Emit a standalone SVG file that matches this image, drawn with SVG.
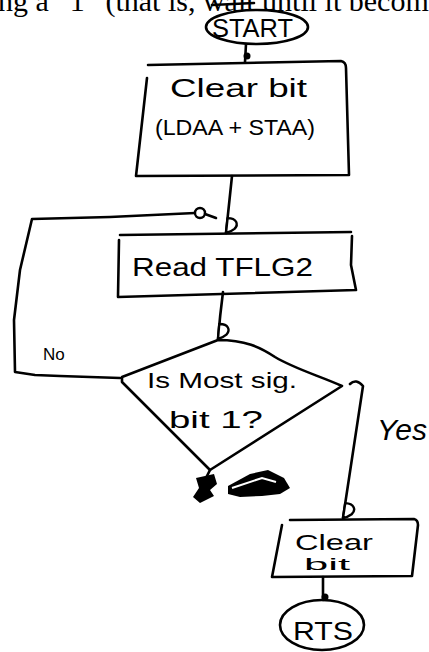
<svg xmlns="http://www.w3.org/2000/svg" width="429" height="652" viewBox="0 0 429 652">
<style>
  .ln{fill:none;stroke:#000;stroke-width:2.6;stroke-linecap:round;stroke-linejoin:round}
  .hw{font-family:"Liberation Sans","DejaVu Sans",sans-serif;fill:#000}
  .pg{font-family:"Liberation Serif","DejaVu Serif",serif;fill:#000;font-size:30px}
</style>
<defs>
  <marker id="arr" viewBox="-17 -13 20 17" refX="0" refY="0" markerWidth="20" markerHeight="17" markerUnits="userSpaceOnUse" orient="auto">
    <path d="M0,0 L-15,0 C-16,-9 -10,-12 -5,-8 C-2,-5 -1,-3 0,0 Z" fill="#fff" stroke="#000" stroke-width="2.4" stroke-linejoin="round"/>
  </marker>
</defs>
<rect width="429" height="652" fill="#fff"/>

<g id="page-text">
  <text class="pg" x="-2" y="11">ng a “1” (that is, wait until it becom</text>
  <path class="ln" d="M212,5 L254,3" stroke-width="2"/>
</g>

<g id="connectors">
  <path class="ln" d="M246,44 L245,62"/>
  <circle cx="247" cy="56" r="3.5" fill="#000"/>
  <path class="ln" d="M232,176 L226,233" marker-end="url(#arr)"/>
  <path class="ln" d="M120,378 L60,376 L35,375 L15,372 L14,320 L20,270 L32,219 L110,217 L195,213"/>
  <circle cx="200" cy="213" r="5" fill="#fff" stroke="#000" stroke-width="2.4"/>
  <path class="ln" d="M205,214 L216,218"/>
  <path class="ln" d="M223,292 Q220,315 218,339" marker-end="url(#arr)"/>
  <path class="ln" d="M350,384 Q356,378 363,386 L343,518" marker-end="url(#arr)"/>
  <path class="ln" d="M210,470 L205,480"/>
  <path class="ln" d="M323,577 L323,600"/>
  <circle cx="325" cy="597" r="3.5" fill="#000"/>
</g>

<g id="start">
  <ellipse class="ln" cx="257" cy="27" rx="51" ry="17"/>
  <text class="hw" x="212" y="37" font-size="26" textLength="81" lengthAdjust="spacingAndGlyphs">START</text>
</g>

<g id="clear-bit-1">
  <path class="ln" d="M148,65 L341,61 Q346,62 346,68 L349,175 L136,176 L147,78"/>
  <text class="hw" x="170" y="97" font-size="25" textLength="137" lengthAdjust="spacingAndGlyphs">Clear bit</text>
  <text class="hw" x="155" y="135" font-size="22" textLength="160" lengthAdjust="spacingAndGlyphs">(LDAA + STAA)</text>
</g>

<g id="read-tflg2">
  <path class="ln" d="M120,235 L351,232"/>
  <path class="ln" d="M352,236 L351,265 L356,290 L118,297 L119,240"/>
  <text class="hw" x="132" y="276" font-size="26" textLength="181" lengthAdjust="spacingAndGlyphs">Read  TFLG2</text>
</g>

<g id="decision">
  <path class="ln" d="M122,377 L218,340 C245,340 260,347 275,357 C295,369 320,376 342,386 L210,470 L122,382 Z"/>
  <text class="hw" x="147" y="388" font-size="22" textLength="150" lengthAdjust="spacingAndGlyphs">Is Most sig.</text>
  <text class="hw" x="169" y="428" font-size="24" textLength="94" lengthAdjust="spacingAndGlyphs">bit 1?</text>
</g>

<g id="scribble">
  <path d="M196,478 L214,474 L217,484 L210,490 L214,496 L200,503 L193,497 L199,488 Z" fill="#000"/>
  <path d="M228,486 L250,474 L268,470 L284,478 L290,488 L280,494 L262,496 L240,497 L228,494 Z" fill="#000"/>
  <path d="M232,488 L262,478 L276,482" fill="none" stroke="#fff" stroke-width="2"/>
</g>

<g id="labels">
  <text class="hw" x="43" y="360" font-size="17">No</text>
  <text class="hw" x="377" y="440" font-size="30" font-style="italic">Yes</text>
</g>

<g id="clear-bit-2">
  <path class="ln" d="M290,520 L414,519 Q418,520 418,525 L412,576 L272,577 L282,525"/>
  <text class="hw" x="295" y="550" font-size="22" textLength="78" lengthAdjust="spacingAndGlyphs">Clear</text>
  <text class="hw" x="304" y="570" font-size="16" textLength="46" lengthAdjust="spacingAndGlyphs">bit</text>
</g>

<g id="rts">
  <ellipse class="ln" cx="322" cy="625" rx="42" ry="25"/>
  <text class="hw" x="293" y="640" font-size="26" textLength="60" lengthAdjust="spacingAndGlyphs">RTS</text>
</g>
</svg>
